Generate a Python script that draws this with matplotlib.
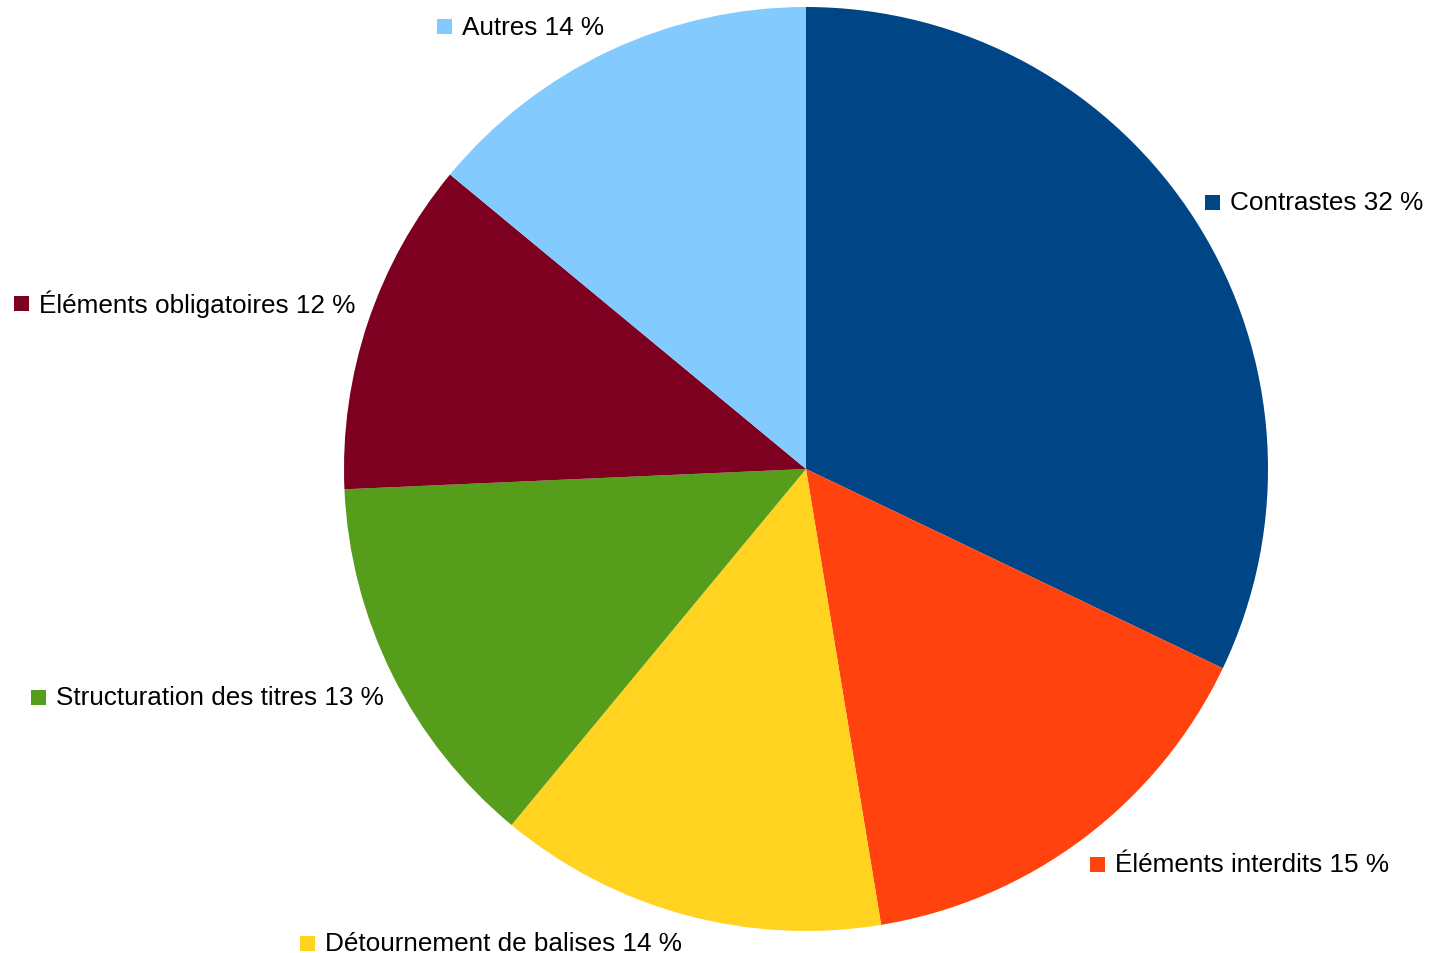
import matplotlib
matplotlib.use("Agg")
import matplotlib.pyplot as plt
import numpy as np

categories = ["Contrastes", "Éléments interdits", "Détournement de balises",
              "Structuration des titres", "Éléments obligatoires", "Autres"]
values = [32.1, 15.3, 13.6, 13.3, 11.7, 14.0]
labels_pct = [32, 15, 14, 13, 12, 14]
colors = ["#004586", "#ff420e", "#ffd320", "#579d1c", "#7e0021", "#83caff"]

# layout: per-label pixel nudges (x right, y up) applied after ray placement
label_nudge = [(-21, 2), (-14, 2), (5, 5), (22, -7), (20, 8), (9, -7)]

plt.rcParams['font.family'] = ['Liberation Sans', 'DejaVu Sans']

W, H = 1429, 954
fig = plt.figure(figsize=(W / 100, H / 100), dpi=100)
cx, cy, R = 806, 470, 462
ax = fig.add_axes([(cx - R) / W, (H - cy - R) / H, 2 * R / W, 2 * R / H])
ax.pie(values, colors=colors, startangle=90, counterclock=False, radius=1,
       wedgeprops=dict(linewidth=0))
ax.set_xlim(-1, 1)
ax.set_ylim(-1, 1)
ax.set_aspect('equal')
ax.axis('off')

fig.canvas.draw()
renderer = fig.canvas.get_renderer()

total = sum(values)
cum = 0.0
lr = 1.075
sq = 15  # px
gap = 10  # px
fs = 18.8
for cat, v, p, c, (nx, ny) in zip(categories, values, labels_pct, colors, label_nudge):
    mid = (cum + v / 2) / total * 2 * np.pi
    cum += v
    dx, dy = np.sin(mid), np.cos(mid)
    px = cx + dx * R * lr + nx
    py = (H - cy) + dy * R * lr + ny
    txt = f"{cat} {p} %"
    if dx >= 0:
        sx = px
        t = fig.text((sx + sq + gap) / W, py / H, txt, ha='left', va='center',
                     fontsize=fs, color='black')
    else:
        t = fig.text(px / W, py / H, txt, ha='right', va='center',
                     fontsize=fs, color='black')
        bb = t.get_window_extent(renderer)
        sx = bb.x0 - gap - sq
    fig.patches.append(plt.Rectangle((sx / W, (py - sq / 2) / H), sq / W, sq / H,
                                     transform=fig.transFigure, facecolor=c,
                                     edgecolor='none', figure=fig))

fig.savefig("out.png", dpi=100, facecolor='white')
